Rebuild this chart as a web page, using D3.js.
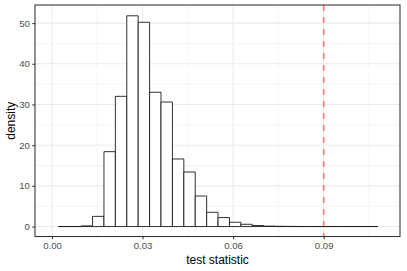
<!DOCTYPE html>
<html>
<head>
<meta charset="utf-8">
<script src="https://cdn.jsdelivr.net/npm/d3@7"></script>
<style>
  body { margin: 0; background: #fff; }
  text { font-family: "Liberation Sans", Arial, sans-serif; }
</style>
</head>
<body>
<svg id="chart" width="407" height="271"></svg>
<script>
// histogram bins (left edge of first bin + bin width) and densities
const binStart = 0.0021;
const binWidth = 0.00378;
const densities = [0, 0, 0.15, 2.5, 18.4, 32.0, 51.8, 50.2, 33.0, 30.6, 16.6, 13.4, 7.5, 3.5,
  2.2, 1.05, 0.55, 0.25, 0.1, 0.05, 0.03, 0, 0, 0, 0, 0, 0, 0];
const cutoff = 0.09;
const xTicks = [0, 0.03, 0.06, 0.09];
const xMinor = [0.015, 0.045, 0.075, 0.105];
const yTicks = [0, 10, 20, 30, 40, 50];
const yMinor = [5, 15, 25, 35, 45];

const width = 407, height = 271;
const margin = {top: 5, right: 7, bottom: 34.5, left: 35};

const svg = d3.select('#chart');

const x = d3.scaleLinear()
  .domain([-0.00563, 0.1153])
  .range([margin.left, width - margin.right]);
const y = d3.scaleLinear()
  .domain([-2.45, 54.45])
  .range([height - margin.bottom, margin.top]);

const bins = densities.map(function(d, i) {
  return {x0: binStart + i * binWidth, x1: binStart + (i + 1) * binWidth, density: d};
});

// panel grid
const grid = svg.append('g');
grid.selectAll('.xminor').data(xMinor).enter().append('line')
  .attr('x1', d => x(d)).attr('x2', d => x(d))
  .attr('y1', margin.top).attr('y2', height - margin.bottom)
  .attr('stroke', '#ebebeb').attr('stroke-width', 0.55);
grid.selectAll('.yminor').data(yMinor).enter().append('line')
  .attr('y1', d => y(d)).attr('y2', d => y(d))
  .attr('x1', margin.left).attr('x2', width - margin.right)
  .attr('stroke', '#ebebeb').attr('stroke-width', 0.55);
grid.selectAll('.xmajor').data(xTicks).enter().append('line')
  .attr('x1', d => x(d)).attr('x2', d => x(d))
  .attr('y1', margin.top).attr('y2', height - margin.bottom)
  .attr('stroke', '#ebebeb').attr('stroke-width', 1.07);
grid.selectAll('.ymajor').data(yTicks).enter().append('line')
  .attr('y1', d => y(d)).attr('y2', d => y(d))
  .attr('x1', margin.left).attr('x2', width - margin.right)
  .attr('stroke', '#ebebeb').attr('stroke-width', 1.07);

// bars as closed paths so empty bins still show their outline on the baseline
svg.append('g').selectAll('path').data(bins).enter().append('path')
  .attr('d', function(d) {
    var p = d3.path();
    p.moveTo(x(d.x0), y(0));
    p.lineTo(x(d.x0), y(d.density));
    p.lineTo(x(d.x1), y(d.density));
    p.lineTo(x(d.x1), y(0));
    p.closePath();
    return p.toString();
  })
  .attr('fill', '#fff')
  .attr('stroke', '#1a1a1a')
  .attr('stroke-width', 0.9);

// cutoff line
svg.append('line')
  .attr('x1', x(cutoff)).attr('x2', x(cutoff))
  .attr('y1', margin.top).attr('y2', height - margin.bottom)
  .attr('stroke', 'rgba(255,0,0,0.5)')
  .attr('stroke-width', 1.6)
  .attr('stroke-dasharray', '6,6');

// panel border
svg.append('rect')
  .attr('x', margin.left).attr('y', margin.top)
  .attr('width', width - margin.left - margin.right)
  .attr('height', height - margin.top - margin.bottom)
  .attr('fill', 'none').attr('stroke', '#333').attr('stroke-width', 1.07);

// axes
const xAxis = svg.append('g')
  .attr('transform', 'translate(0,' + (height - margin.bottom) + ')')
  .call(d3.axisBottom(x).tickValues(xTicks).tickFormat(d3.format('.2f')).tickSizeOuter(0).tickSize(2.7).tickPadding(3));
const yAxis = svg.append('g')
  .attr('transform', 'translate(' + margin.left + ',0)')
  .call(d3.axisLeft(y).tickValues(yTicks).tickSizeOuter(0).tickSize(2.7).tickPadding(2.5));

[xAxis, yAxis].forEach(function(g) {
  g.select('.domain').remove();
  g.selectAll('.tick line').attr('stroke', '#333').attr('stroke-width', 1.07);
  g.selectAll('.tick text').attr('fill', '#4d4d4d').style('font-size', '9.6px')
    .style('font-family', '"Liberation Sans", Arial, sans-serif');
});

svg.append('text')
  .attr('x', (margin.left + width - margin.right) / 2)
  .attr('y', 263.5)
  .attr('text-anchor', 'middle')
  .style('font-size', '12px')
  .attr('fill', '#000')
  .text('test statistic');

svg.append('text')
  .attr('transform', 'translate(14.5,' + (margin.top + height - margin.bottom) / 2 + ') rotate(-90)')
  .attr('text-anchor', 'middle')
  .style('font-size', '12px')
  .attr('fill', '#000')
  .text('density');
</script>
</body>
</html>
